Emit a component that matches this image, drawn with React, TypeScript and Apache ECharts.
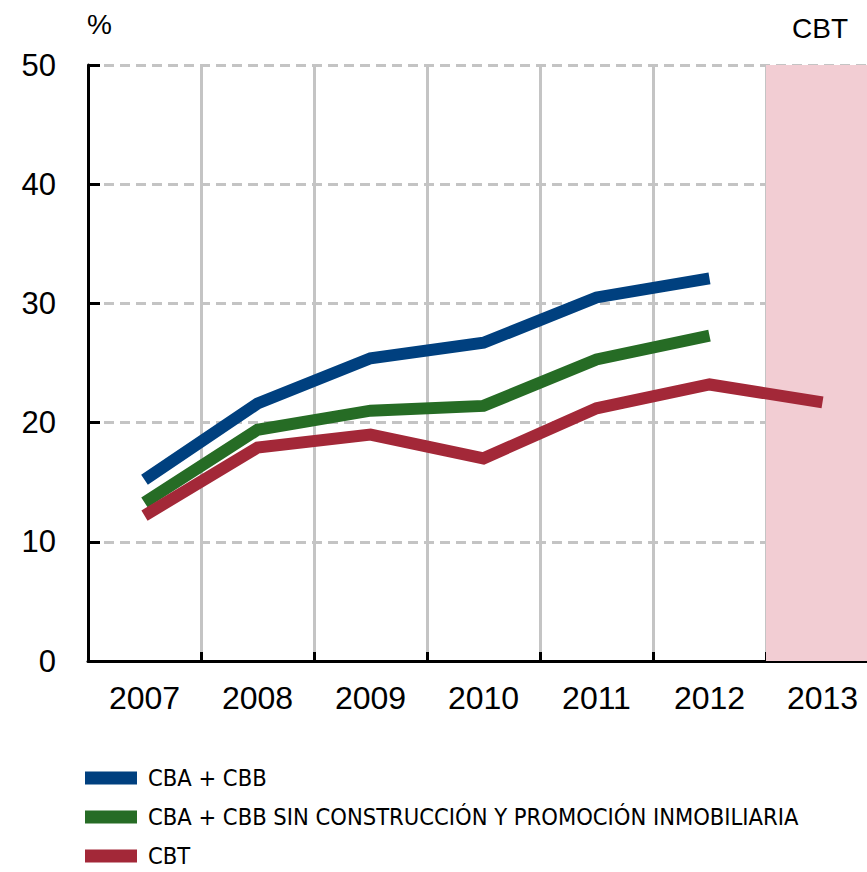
import React, { useEffect, useRef } from "react";
import * as echarts from "echarts";

const categories = ["2007", "2008", "2009", "2010", "2011", "2012", "2013"];
const cbaCbb = [15.2, 21.6, 25.4, 26.7, 30.5, 32.1, null];
const cbaCbbSinConstruccion = [13.3, 19.4, 21.0, 21.4, 25.3, 27.3, null];
const cbt = [12.2, 17.9, 19.0, 17.0, 21.2, 23.2, 21.7];
const shadedBand = [null, null, null, null, null, null, 50];
const seriesNames = [
  "CBA + CBB",
  "CBA + CBB SIN CONSTRUCCIÓN Y PROMOCIÓN INMOBILIARIA",
  "CBT",
];

export default function App() {
  const ref = useRef<HTMLDivElement>(null);
  useEffect(() => {
    if (!ref.current) return;
    const chart = echarts.init(ref.current, null, { renderer: "svg" });
    const font = "'Liberation Sans', Arial, Helvetica, sans-serif";
    const narrow = "'Liberation Sans Narrow', 'DejaVu Sans Condensed', sans-serif";
    const lineSeries = (name: string, data: (number | null)[], color: string) => ({
      type: "line",
      name,
      data,
      symbol: "none",
      showSymbol: false,
      connectNulls: false,
      lineStyle: { color, width: 12, cap: "butt", join: "miter" },
      itemStyle: { color },
      z: 3,
    });
    chart.setOption({
      animation: false,
      grid: {
        left: 88,
        top: 65,
        bottom: 211,
        width: 791,
        containLabel: false,
        outerBoundsMode: "none",
      },
      graphic: [
        { type: "text", left: 87, top: 10, style: { text: "%", font: `28px ${font}`, fill: "#000" } },
        { type: "text", left: 792, top: 14, style: { text: "CBT", font: `28px ${font}`, fill: "#000" } },
      ],
      legend: {
        orient: "vertical",
        left: 85,
        top: 765,
        padding: 0,
        data: seriesNames,
        icon: "rect",
        itemWidth: 52,
        itemHeight: 13,
        itemGap: 13,
        selectedMode: false,
        textStyle: {
          fontFamily: narrow,
          fontSize: 23.5,
          color: "#000",
          lineHeight: 26,
          padding: [0, 0, 0, 6],
        },
      },
      xAxis: {
        type: "category",
        data: categories,
        boundaryGap: true,
        axisLine: { lineStyle: { color: "#000", width: 3 } },
        axisTick: { show: true, inside: true, length: 9, lineStyle: { color: "#000", width: 3 } },
        axisLabel: { color: "#000", fontFamily: font, fontSize: 32, margin: 21 },
        splitLine: { show: true, lineStyle: { color: "#c4c4c4", width: 3, type: "solid" } },
      },
      yAxis: {
        type: "value",
        min: 0,
        max: 50,
        interval: 10,
        axisLine: { show: true, lineStyle: { color: "#000", width: 3 } },
        axisTick: { show: true, inside: true, length: 12, lineStyle: { color: "#000", width: 3 } },
        axisLabel: { color: "#000", fontFamily: font, fontSize: 31, margin: 32 },
        splitLine: { show: true, lineStyle: { color: "#c4c4c4", width: 3, type: [10, 6] } },
      },
      series: [
        {
          type: "bar",
          name: "shade",
          data: shadedBand,
          barWidth: "100%",
          itemStyle: { color: "#f2cdd3" },
          silent: true,
          z: 1,
        },
        lineSeries(seriesNames[0], cbaCbb, "#00407f"),
        lineSeries(seriesNames[1], cbaCbbSinConstruccion, "#266c25"),
        lineSeries(seriesNames[2], cbt, "#a32838"),
      ],
    });
    return () => chart.dispose();
  }, []);
  return <div ref={ref} style={{ width: 867, height: 872, position: "absolute", left: 0, top: 0 }} />;
}
